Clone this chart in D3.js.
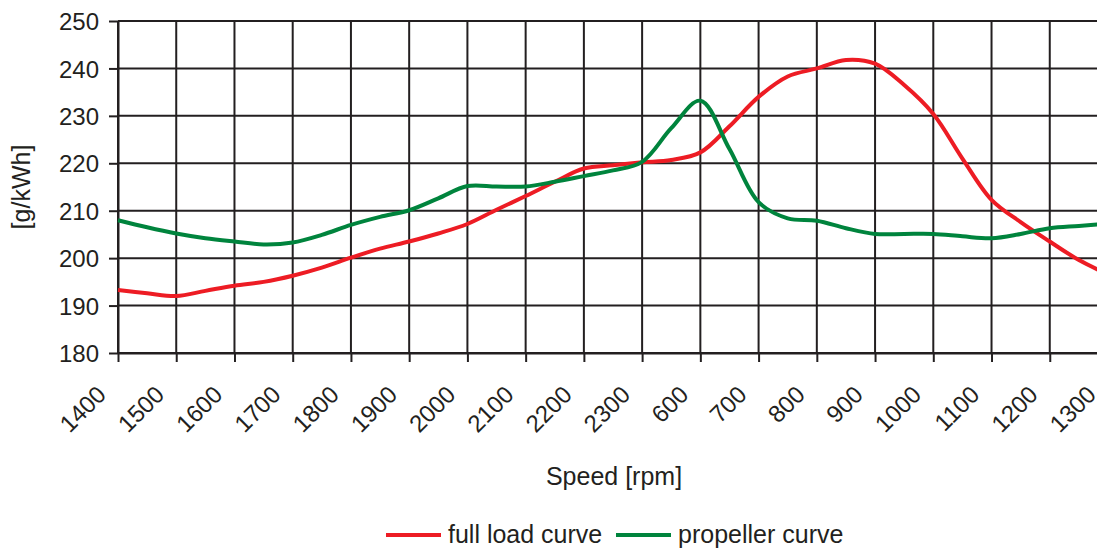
<!DOCTYPE html>
<html>
<head>
<meta charset="utf-8">
<script src="https://cdn.jsdelivr.net/npm/d3@7"></script>
<style>
  html, body { margin: 0; padding: 0; background: #fff; }
  svg { display: block; font-family: "Liberation Sans", Arial, sans-serif; }
</style>
</head>
<body>
<div id="chart"></div>
<script>
"use strict";

// x axis categories (two speed ranges joined)
const categories = ['1400', '1500', '1600', '1700', '1800', '1900', '2000', '2100', '2200', '2300',
  '600', '700', '800', '900', '1000', '1100', '1200', '1300'];
const yTicks = [180, 190, 200, 210, 220, 230, 240, 250];

const fullLoad = [193.3, 192.6, 192.0, 193.1, 194.2, 195.0, 196.3, 198.0, 200.1, 202.0,
  203.5, 205.2, 207.2, 210.2, 213.1, 216.1, 218.9, 219.6, 220.2, 220.7,
  222.3, 227.8, 234.0, 238.3, 240.0, 241.8, 241.0, 236.5, 230.4, 221.0,
  212.3, 207.6, 203.5, 199.6, 196.6];
const propeller = [208.0, 206.5, 205.2, 204.2, 203.5, 202.9, 203.3, 204.9, 207.0, 208.7,
  210.1, 212.6, 215.2, 215.1, 215.1, 216.1, 217.3, 218.5, 220.3, 227.4,
  233.2, 223.0, 211.8, 208.4, 207.9, 206.3, 205.1, 205.1, 205.1, 204.6,
  204.2, 205.1, 206.3, 206.8, 207.3];

const seriesNames = ['full load curve', 'propeller curve'];
const seriesColors = ['#ed1c24', '#00843d'];

const W = 1097, H = 548;
const plot = {left: 118, top: 21, right: 1108, bottom: 353}; // right edge runs past the picture
const ink = '#231f20';

const svg = d3.select('#chart').append('svg')
  .attr('width', W).attr('height', H);

const x = d3.scalePoint().domain(categories).range([plot.left, plot.right]);
const y = d3.scaleLinear().domain([180, 250]).range([plot.bottom, plot.top]);
const xAt = i => x(categories[0]) + i * x.step(); // fractional category index -> px

// grid
const grid = svg.append('g').attr('stroke', ink).attr('stroke-width', 2);
grid.selectAll('.h').data(yTicks).join('line')
  .attr('x1', plot.left).attr('x2', plot.right)
  .attr('y1', d => y(d)).attr('y2', d => y(d));
grid.selectAll('.v').data(categories).join('line')
  .attr('x1', d => x(d)).attr('x2', d => x(d))
  .attr('y1', plot.top).attr('y2', plot.bottom);

// axes
const yAxis = svg.append('g')
  .attr('transform', `translate(${plot.left},0)`)
  .call(d3.axisLeft(y).tickValues(yTicks).tickSize(9).tickSizeOuter(0).tickPadding(10));
const xAxis = svg.append('g')
  .attr('transform', `translate(0,${plot.bottom})`)
  .call(d3.axisBottom(x).tickSize(9).tickSizeOuter(0));

[yAxis, xAxis].forEach(a => {
  a.select('.domain').attr('stroke', ink).attr('stroke-width', 2);
  a.selectAll('.tick line').attr('stroke', ink).attr('stroke-width', 2);
  a.selectAll('.tick text').attr('fill', ink).style('font-size', '24px')
    .style('font-family', '"Liberation Sans", Arial, sans-serif');
});
yAxis.selectAll('.tick text').attr('x', -19).attr('dy', '0.36em');
xAxis.selectAll('.tick text')
  .attr('text-anchor', 'end')
  .attr('y', 0).attr('dy', 0)
  .attr('transform', 'translate(-11,43) rotate(-45)');

// axis titles
svg.append('text')
  .attr('transform', `translate(30,${(plot.top + plot.bottom) / 2}) rotate(-90)`)
  .attr('text-anchor', 'middle').attr('fill', ink).style('font-size', '25px')
  .text('[g/kWh]');
svg.append('text')
  .attr('x', 614).attr('y', 485)
  .attr('text-anchor', 'middle').attr('fill', ink).style('font-size', '25px')
  .text('Speed [rpm]');

// series
const line = d3.line()
  .x((d, i) => xAt(i / 2))
  .y(d => y(d))
  .curve(d3.curveCatmullRom.alpha(0.5));

svg.append('g').selectAll('path').data([fullLoad, propeller]).join('path')
  .attr('d', d => line(d))
  .attr('fill', 'none')
  .attr('stroke', (d, i) => seriesColors[i])
  .attr('stroke-width', 4)
  .attr('stroke-linejoin', 'round');

// legend
const legendX = [386, 616];
const lg = svg.append('g').selectAll('g').data(seriesNames).join('g')
  .attr('transform', (d, i) => `translate(${legendX[i]},535)`);
lg.append('line')
  .attr('x1', 0).attr('x2', 55)
  .attr('stroke', (d, i) => seriesColors[i]).attr('stroke-width', 4);
lg.append('text')
  .attr('x', 62).attr('y', 8)
  .attr('fill', ink).style('font-size', '25px')
  .text(d => d);
</script>
</body>
</html>
